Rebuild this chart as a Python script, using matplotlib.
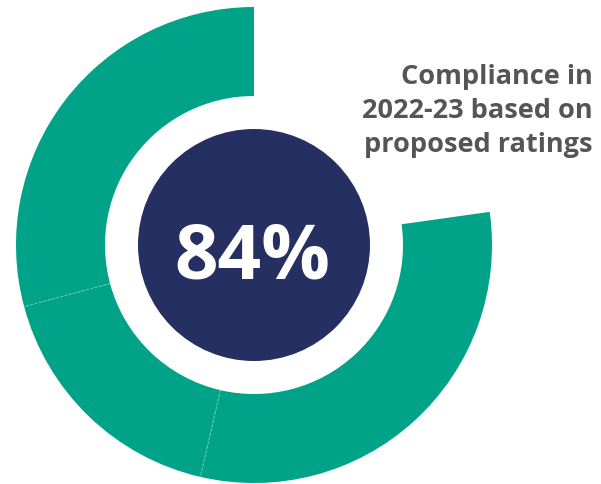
import matplotlib.pyplot as plt
import numpy as np

# ring segments, in degrees of arc, counterclockwise from 12 o'clock
segments = [105, 62, 111]
gap = 360 - sum(segments)
headline = "84%"
caption = "Compliance in\n2022-23 based on\nproposed ratings"

teal = "#00a387"
navy = "#262f62"
grey = "#555558"

W, H = 601, 485
fig = plt.figure(figsize=(W / 100, H / 100), dpi=100)
ax = fig.add_axes([0, 0, 1, 1])

cx, cy = 254, H - 246
r_out, r_in = 238, 149

ax.pie(segments + [gap], startangle=90, counterclock=True,
       colors=[teal] * len(segments) + ["none"],
       radius=r_out, center=(cx, cy),
       wedgeprops=dict(width=r_out - r_in, linewidth=0))

# faint dotted boundaries between segments
bounds = 90 + np.cumsum(segments)[:-1]
for a in bounds:
    t = np.deg2rad(a)
    ax.plot([cx + r_in * np.cos(t), cx + r_out * np.cos(t)],
            [cy + r_in * np.sin(t), cy + r_out * np.sin(t)],
            color="#6cc7b4", lw=0.8, ls=(0, (2, 2)))

ax.add_patch(plt.Circle((cx, cy), 116, color=navy, lw=0))
ax.text(cx - 2, H - 259, headline, color="white", fontsize=55,
        fontweight="bold", family="Open Sans", ha="center", va="center")

ax.text(593, H - 64, caption, color=grey, fontsize=19.5, fontweight="bold",
        family="Open Sans", ha="right", va="top", linespacing=1.4)

ax.set_xlim(0, W)
ax.set_ylim(0, H)
ax.set_aspect("equal")
ax.axis("off")
fig.savefig("out.png", dpi=100, facecolor="white")
